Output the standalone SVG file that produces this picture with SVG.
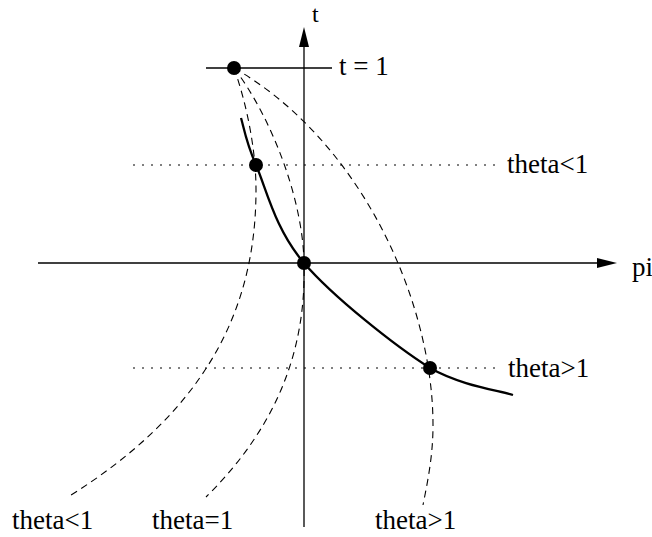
<svg xmlns="http://www.w3.org/2000/svg" width="652" height="537" viewBox="0 0 652 537">
<style>
.ax{stroke:#000;stroke-width:1.3;fill:none}
.dot{stroke:#000;stroke-width:1;fill:none;stroke-dasharray:2 7}
.dash{stroke:#000;stroke-width:1.1;fill:none;stroke-dasharray:7 5}
.sol{stroke:#000;stroke-width:2.3;fill:none}
.pt{fill:#000}
text{font-family:"Liberation Serif","Times New Roman",serif;font-size:27px;fill:#000}
</style>
<rect width="652" height="537" fill="#fff"/>
<g id="axes">
<line class="ax" x1="304" y1="527" x2="304" y2="45"/>
<polygon points="304,27 299,47 309,47" fill="#000"/>
<line class="ax" x1="38" y1="263" x2="599" y2="263"/>
<polygon points="617,263 597,258 597,268" fill="#000"/>
<line class="ax" x1="206" y1="68" x2="332" y2="68"/>
</g>
<g id="levels">
<line class="dot" x1="133" y1="165" x2="496" y2="165"/>
<line class="dot" x1="133" y1="368" x2="498" y2="368"/>
</g>
<g id="connectors">
<path class="dash" d="M234,68 C247,105 256,150 256,190 C256,320 196,417 68,497"/>
<path class="dash" d="M234,68 C272,118 303,200 304,263 C306,340 284,420 206,497"/>
<path class="dash" d="M234,68 C360,140 433,300 433,425 C433,455 428,480 423,505"/>
<path class="sol" d="M241,118 C243.5,125.8 245.5,140.8 256,165 C266.5,189.2 275,229.2 304,263 C333,296.8 395.2,346 430,368 C462,386 499.2,390.5 513,395"/>
</g>
<g id="points">
<circle class="pt" cx="234" cy="68" r="7"/>
<circle class="pt" cx="256" cy="165" r="7"/>
<circle class="pt" cx="304" cy="263" r="7"/>
<circle class="pt" cx="430" cy="368" r="7"/>
</g>
<g id="labels">
<text x="312" y="22" style="font-size:24px">t</text>
<text x="339" y="75">t = 1</text>
<text x="632" y="276">pi</text>
<text x="507" y="173">theta&lt;1</text>
<text x="508" y="377">theta&gt;1</text>
<text x="12" y="529">theta&lt;1</text>
<text x="152" y="529">theta=1</text>
<text x="375" y="529">theta&gt;1</text>
</g>
</svg>
